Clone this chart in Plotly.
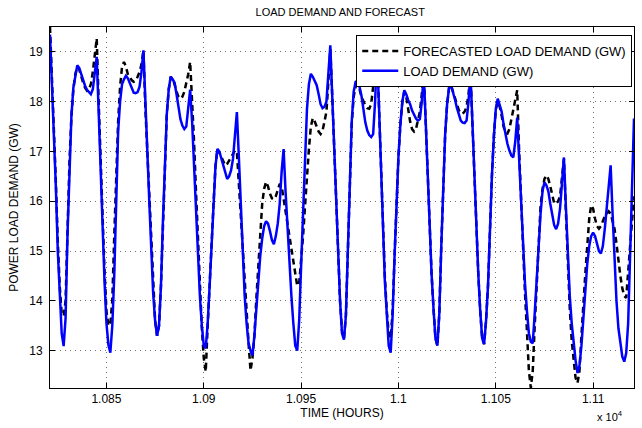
import plotly.graph_objects as go

# Hour index of the first sample (hourly data)
start_hour = 10821
n_hours = 301
hours = [start_hour + i for i in range(n_hours)]

# Actual load demand (GW), hourly
load_demand = [
    19.35, 18.4, 17.5, 16.3, 15.0, 14.0, 13.35,
    13.09, 13.65, 15.35, 16.76, 17.71, 18.28, 18.56, 18.73, 18.68, 18.55, 18.42, 18.32,
    18.24, 18.19, 18.15, 18.25, 18.55, 18.90, 17.80, 16.62, 15.45, 14.40, 13.55, 13.12,
    12.96, 13.5, 14.5, 15.9, 17.4, 18.0, 18.35, 18.45, 18.52, 18.47, 18.38, 18.26,
    18.18, 18.17, 18.19, 18.3, 18.6, 19.03, 17.85, 17.0, 16.0, 15.0, 14.15, 13.6,
    13.3, 13.5, 14.3, 15.6, 16.9, 17.75, 18.25, 18.5, 18.45, 18.38, 18.15, 17.9,
    17.65, 17.52, 17.45, 17.5, 17.9, 18.24, 17.6, 16.7, 15.8, 14.9, 14.1, 13.5,
    13.1, 13.05, 13.55, 14.3, 15.0, 15.9, 16.7, 17.05, 17.0, 16.85, 16.7, 16.55,
    16.45, 16.5, 16.62, 16.85, 17.3, 17.79, 16.9, 16.0, 15.0, 14.1, 13.55, 13.15,
    13.0, 12.9, 13.3, 13.9, 14.45, 14.9, 15.25, 15.5, 15.6, 15.55, 15.4, 15.22,
    15.14, 15.3, 15.55, 15.95, 16.6, 17.05, 16.2, 15.4, 14.7, 14.1, 13.55, 13.1,
    13.0, 13.6, 14.7, 15.85, 17.0, 17.85, 18.35, 18.56, 18.5, 18.42, 18.33, 18.15,
    17.95, 17.87, 17.9, 18.0, 18.5, 19.13, 18.1, 17.0, 16.0, 14.9, 14.0, 13.35,
    13.22, 13.7, 15.0, 16.5, 17.6, 18.2, 18.4, 18.42, 18.3, 18.12, 17.85, 17.58,
    17.42, 17.33, 17.29, 17.35, 18.0, 19.0, 17.9, 16.75, 15.5, 14.4, 13.75, 13.1,
    12.96, 13.7, 14.9, 16.0, 16.9, 17.55, 18.0, 18.23, 18.15, 18.03, 17.95, 17.82,
    17.72, 17.66, 17.62, 17.65, 18.0, 18.56, 17.6, 16.45, 15.5, 14.55, 13.85, 13.25,
    13.1, 13.75, 15.1, 16.35, 17.35, 17.95, 18.28, 18.33, 18.2, 18.05, 17.88, 17.72,
    17.62, 17.58, 17.57, 17.62, 18.0, 18.58, 17.55, 16.45, 15.5, 14.55, 13.8, 13.25,
    13.13, 13.6, 14.3, 15.5, 16.5, 17.3, 17.85, 18.06, 17.95, 17.8, 17.55, 17.32,
    17.15, 17.02, 16.92, 16.88, 17.2, 17.68, 16.9, 15.95, 15.05, 14.35, 13.8, 13.35,
    13.18, 13.15, 13.75, 14.5, 15.15, 15.75, 16.2, 16.38, 16.32, 16.2, 15.95, 15.7,
    15.52, 15.44, 15.55, 15.85, 16.4, 16.88, 15.9, 14.9, 14.1, 13.55, 13.15, 12.8,
    12.55, 12.7, 13.1, 13.7, 14.2, 14.75, 15.1, 15.3, 15.37, 15.3, 15.15, 15.0,
    14.95, 15.1, 15.45, 15.9, 16.35, 16.72, 15.75, 14.8, 14.0, 13.45, 13.1, 12.88,
    12.78, 12.95, 13.55, 14.8, 16.2, 17.66,
]

# Forecasted load demand (GW), hourly
forecast = [
    19.5, 18.5, 17.6, 16.4, 15.2, 14.3, 13.75,
    13.7, 14.0, 15.5, 16.8, 17.7, 18.25, 18.55, 18.7, 18.65, 18.5, 18.38, 18.28,
    18.22, 18.25, 18.35, 18.6, 18.95, 19.27, 18.0, 16.8, 15.6, 14.6, 13.8, 13.5,
    13.55, 14.0, 15.3, 16.6, 17.6, 18.3, 18.7, 18.8, 18.7, 18.55, 18.48, 18.43,
    18.4, 18.42, 18.5, 18.6, 18.75, 19.03, 17.85, 17.0, 16.0, 15.0, 14.15, 13.6,
    13.3, 13.5, 14.3, 15.6, 16.9, 17.75, 18.25, 18.5, 18.45, 18.35, 18.2, 18.1,
    18.06, 18.1, 18.2, 18.35, 18.55, 18.8, 18.1, 17.2, 16.2, 15.2, 14.3, 13.45,
    12.85, 12.58, 13.5, 14.4, 15.1, 15.95, 16.7, 17.05, 16.98, 16.88, 16.78, 16.72,
    16.75, 16.82, 16.9, 16.98, 17.02, 17.0, 16.4, 15.75, 15.1, 14.45, 13.8, 13.15,
    12.6, 12.85, 13.3, 14.05, 14.75, 15.4, 15.95, 16.25, 16.39, 16.3, 16.15, 16.06,
    16.04, 16.1, 16.25, 16.35, 16.3, 16.05, 15.85, 15.6, 15.35, 15.1, 14.85, 14.55,
    14.3, 14.35, 14.8, 15.3, 15.9, 16.55, 17.05, 17.5, 17.67, 17.6, 17.5, 17.4,
    17.35, 17.42, 17.6, 17.8, 18.4, 19.05, 18.1, 17.0, 16.0, 14.9, 14.0, 13.4,
    13.25, 13.7, 15.0, 16.5, 17.55, 18.1, 18.3, 18.35, 18.25, 18.1, 18.0, 17.92,
    17.87, 17.86, 17.95, 18.3, 18.8, 19.1, 17.9, 16.7, 15.5, 14.5, 13.8, 13.35,
    13.25, 13.8, 14.9, 16.0, 16.9, 17.55, 18.0, 18.2, 18.1, 17.85, 17.6, 17.45,
    17.4, 17.45, 17.6, 17.8, 18.15, 18.56, 17.6, 16.45, 15.5, 14.55, 13.85, 13.25,
    13.1, 13.75, 15.1, 16.35, 17.35, 17.95, 18.28, 18.33, 18.2, 18.05, 17.92, 17.83,
    17.77, 17.76, 17.8, 17.9, 18.15, 18.58, 17.55, 16.45, 15.5, 14.55, 13.8, 13.25,
    13.13, 13.6, 14.3, 15.5, 16.5, 17.3, 17.85, 18.0, 17.9, 17.72, 17.5, 17.38,
    17.36, 17.45, 17.65, 17.8, 18.0, 18.23, 17.0, 16.0, 15.05, 14.15, 13.4, 12.6,
    12.25, 12.6, 13.5, 14.4, 15.3, 15.9, 16.25, 16.45, 16.52, 16.45, 16.3, 16.1,
    15.96, 15.95, 16.0, 16.1, 16.45, 16.85, 15.8, 14.7, 13.85, 13.2, 12.75, 12.45,
    12.35, 12.6, 13.3, 14.0, 14.55, 15.1, 15.65, 15.92, 15.85, 15.65, 15.5, 15.45,
    15.5, 15.6, 15.7, 15.75, 15.8, 15.75, 15.6, 15.45, 15.15, 14.8, 14.5, 14.25,
    14.1, 14.06, 14.5, 15.1, 15.6, 16.1,
]

x_tick_vals = [10850, 10900, 10950, 11000, 11050, 11100]
x_tick_text = ["1.085", "1.09", "1.095", "1.1", "1.105", "1.11"]
y_tick_vals = [13, 14, 15, 16, 17, 18, 19]

FONT = "Liberation Sans, Arial, Helvetica, sans-serif"

fig = go.Figure()
fig.add_trace(go.Scatter(
    x=hours, y=forecast, mode="lines",
    name="FORECASTED LOAD DEMAND (GW)",
    line=dict(color="#000000", width=2.5, dash="6px,4px"),
))
fig.add_trace(go.Scatter(
    x=hours, y=load_demand, mode="lines",
    name="LOAD DEMAND (GW)",
    line=dict(color="#0000FF", width=2.5),
))

axis_common = dict(
    showline=True, linecolor="black", linewidth=1, mirror="ticks",
    ticks="inside", ticklen=5, tickcolor="black", tickwidth=1,
    showgrid=True, gridcolor="rgba(0,0,0,0.55)", griddash="1px,4px", gridwidth=1,
    zeroline=False,
    tickfont=dict(family=FONT, size=12, color="black"),
)

fig.update_xaxes(
    range=[10821, 11121], tickvals=x_tick_vals, ticktext=x_tick_text,
    title=dict(text="TIME (HOURS)", font=dict(family=FONT, size=12, color="black"), standoff=2),
    **axis_common,
)
fig.update_yaxes(
    range=[12.25, 19.5], tickvals=y_tick_vals,
    title=dict(text="POWER LOAD DEMAND (GW)", font=dict(family=FONT, size=12, color="black"), standoff=8),
    ticklabelstandoff=4,
    **axis_common,
)

fig.update_layout(
    width=642, height=428,
    margin=dict(l=50, r=8, t=27, b=40),
    paper_bgcolor="white", plot_bgcolor="white",
    title=dict(text="LOAD DEMAND AND FORECAST", x=0.53, xanchor="center", y=0.972, yanchor="middle",
               font=dict(family=FONT, size=11, color="black")),
    legend=dict(
        x=0.997, y=0.978, xanchor="right", yanchor="top",
        bgcolor="white", bordercolor="black", borderwidth=1,
        font=dict(family=FONT, size=13, color="black"),
        tracegroupgap=0, itemwidth=36,
    ),
    showlegend=True,
    annotations=[dict(
        text="x 10<sup>4</sup>", xref="paper", yref="paper", x=0.985, y=-0.078,
        xanchor="right", yanchor="middle", showarrow=False,
        font=dict(family=FONT, size=11, color="black"),
    )],
)

fig.write_html(
    "out.html",
    config={"displayModeBar": False},
    post_script="document.body.style.margin='0px';document.body.style.overflow='hidden';",
)
